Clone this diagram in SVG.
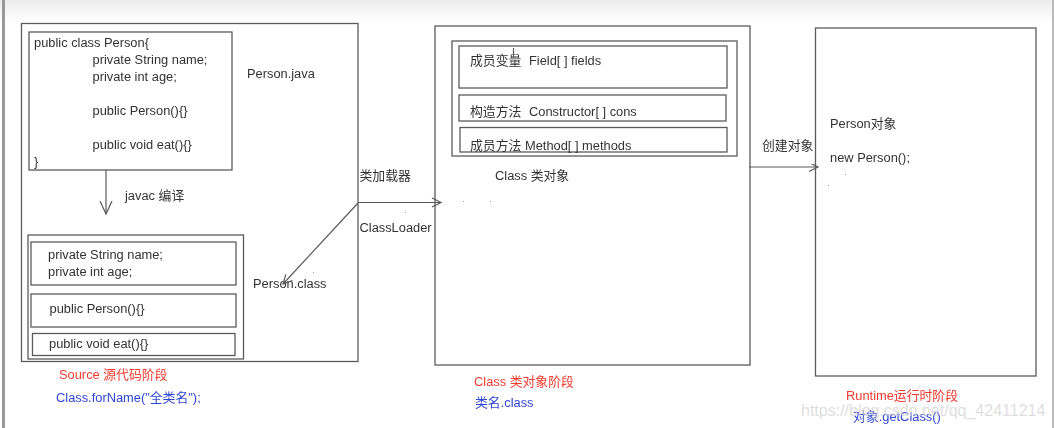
<svg xmlns="http://www.w3.org/2000/svg" width="1054" height="428" viewBox="0 0 1054 428">
<style>
text{font-family:"Liberation Sans","Noto Sans CJK SC",sans-serif;font-size:12.85px;fill:#333}
.box{fill:none;stroke:#5a5a5a;stroke-width:1.3}
.edge{fill:none;stroke:#5a5a5a;stroke-width:1.2}
.red{fill:#f03a2e}
.blue{fill:#2f45d8}
.mark{fill:#999}
svg > g{filter:url(#soft)}
</style>
<defs>
<filter id="soft" x="-2%" y="-2%" width="104%" height="104%"><feGaussianBlur stdDeviation="0.3"/></filter>
<linearGradient id="top" x1="0" y1="0" x2="0" y2="1"><stop offset="0" stop-color="#ececec"/><stop offset="1" stop-color="#ffffff"/></linearGradient>
<marker id="open" markerUnits="userSpaceOnUse" markerWidth="16" markerHeight="16" refX="13" refY="7" orient="auto"><path d="M0 1L13 7L0 13" fill="none" stroke="#5a5a5a" stroke-width="1.2"/></marker>
<marker id="open-small" markerUnits="userSpaceOnUse" markerWidth="12" markerHeight="12" refX="10" refY="6" orient="auto"><path d="M1 1.500L10 6L1 10.500" fill="none" stroke="#5a5a5a" stroke-width="1.2"/></marker>
</defs>
<rect width="1054" height="428" fill="#fff"/>
<rect width="1054" height="22" fill="url(#top)"/>
<rect x="2" y="0" width="3" height="428" fill="#999"/>
<rect x="1052" y="0" width="2" height="428" fill="#bbb"/>

<g id="source-stage">
<rect class="box" x="21.500" y="23.500" width="336.500" height="338"/>
<text x="247" y="78">Person.java</text>
<text x="253" y="288">Person.class</text>
<text class="red" x="59" y="379">Source 源代码阶段</text>
<text class="blue" x="56" y="402">Class.forName("全类名");</text>
</g>
<g id="person-java">
<rect class="box" x="29" y="32" width="203" height="138"/>
<text x="34" y="47">public class Person{</text>
<text x="92.500" y="64">private String name;</text>
<text x="92.500" y="81">private int age;</text>
<text x="92.500" y="115">public Person(){}</text>
<text x="92.500" y="149">public void eat(){}</text>
<text x="34" y="166">}</text>
</g>
<g id="person-class">
<rect class="box" x="28" y="235" width="215.500" height="124"/>
<rect class="box" x="31" y="242" width="205" height="43"/>
<rect class="box" x="31" y="294" width="205" height="33"/>
<rect class="box" x="32.500" y="333.500" width="202.500" height="22"/>
<text x="48" y="259">private String name;</text>
<text x="48" y="276">private int age;</text>
<text x="49.500" y="313">public Person(){}</text>
<text x="49" y="348">public void eat(){}</text>
</g>
<g id="class-stage">
<rect class="box" x="435" y="26" width="315" height="339"/>
<rect class="box" x="452" y="41" width="285" height="115"/>
<rect class="box" x="459" y="46" width="268" height="42"/>
<rect class="box" x="459" y="95" width="267" height="26"/>
<rect class="box" x="460" y="127.500" width="267" height="24.500"/>
<text x="470" y="65">成员变量<tspan x="529">Field[ ] fields</tspan></text>
<text x="470" y="116">构造方法<tspan x="529">Constructor[ ] cons</tspan></text>
<text x="470" y="150">成员方法<tspan x="525">Method[ ] methods</tspan></text>
<text x="495" y="180">Class 类对象</text>
<text class="red" x="474" y="386">Class 类对象阶段</text>
<text class="blue" x="475" y="407">类名.class</text>
<path class="edge" d="M513.500 48V58"/>
</g>
<g id="runtime-stage">
<rect class="box" x="815.500" y="28" width="220.500" height="348"/>
<text x="830" y="128">Person对象</text>
<text x="830" y="162">new Person();</text>
<text class="red" x="846" y="400">Runtime运行时阶段</text>
<text class="blue" x="853" y="421">对象.getClass()</text>
</g>
<g id="connectors">
<path class="edge" marker-end="url(#open)" d="M106 170V214"/>
<path class="edge" marker-end="url(#open-small)" d="M358 203L283 284"/>
<path class="edge" marker-end="url(#open-small)" d="M358 202.500H441"/>
<path class="edge" marker-end="url(#open-small)" d="M749 167H818"/>
</g>
<g id="connector-labels">
<text x="125" y="200">javac 编译</text>
<text x="359.500" y="180">类加载器</text>
<text x="359.500" y="232">ClassLoader</text>
<text x="762" y="150">创建对象</text>
</g>
<g id="specks">
<rect class="mark" x="313" y="272" width="1" height="1"/>
<rect class="mark" x="405" y="212" width="1" height="1"/>
<rect class="mark" x="463" y="201" width="1" height="1"/>
<rect class="mark" x="490" y="201" width="1" height="1"/>
<rect class="mark" x="845" y="174" width="1" height="1"/>
<rect class="mark" x="828" y="185" width="1" height="1"/>
</g>
<text x="801" y="416" style="font-size:16px;fill:#d6d6d6;fill-opacity:.8">https://blog.csdn.net/qq_42411214</text>
</svg>
